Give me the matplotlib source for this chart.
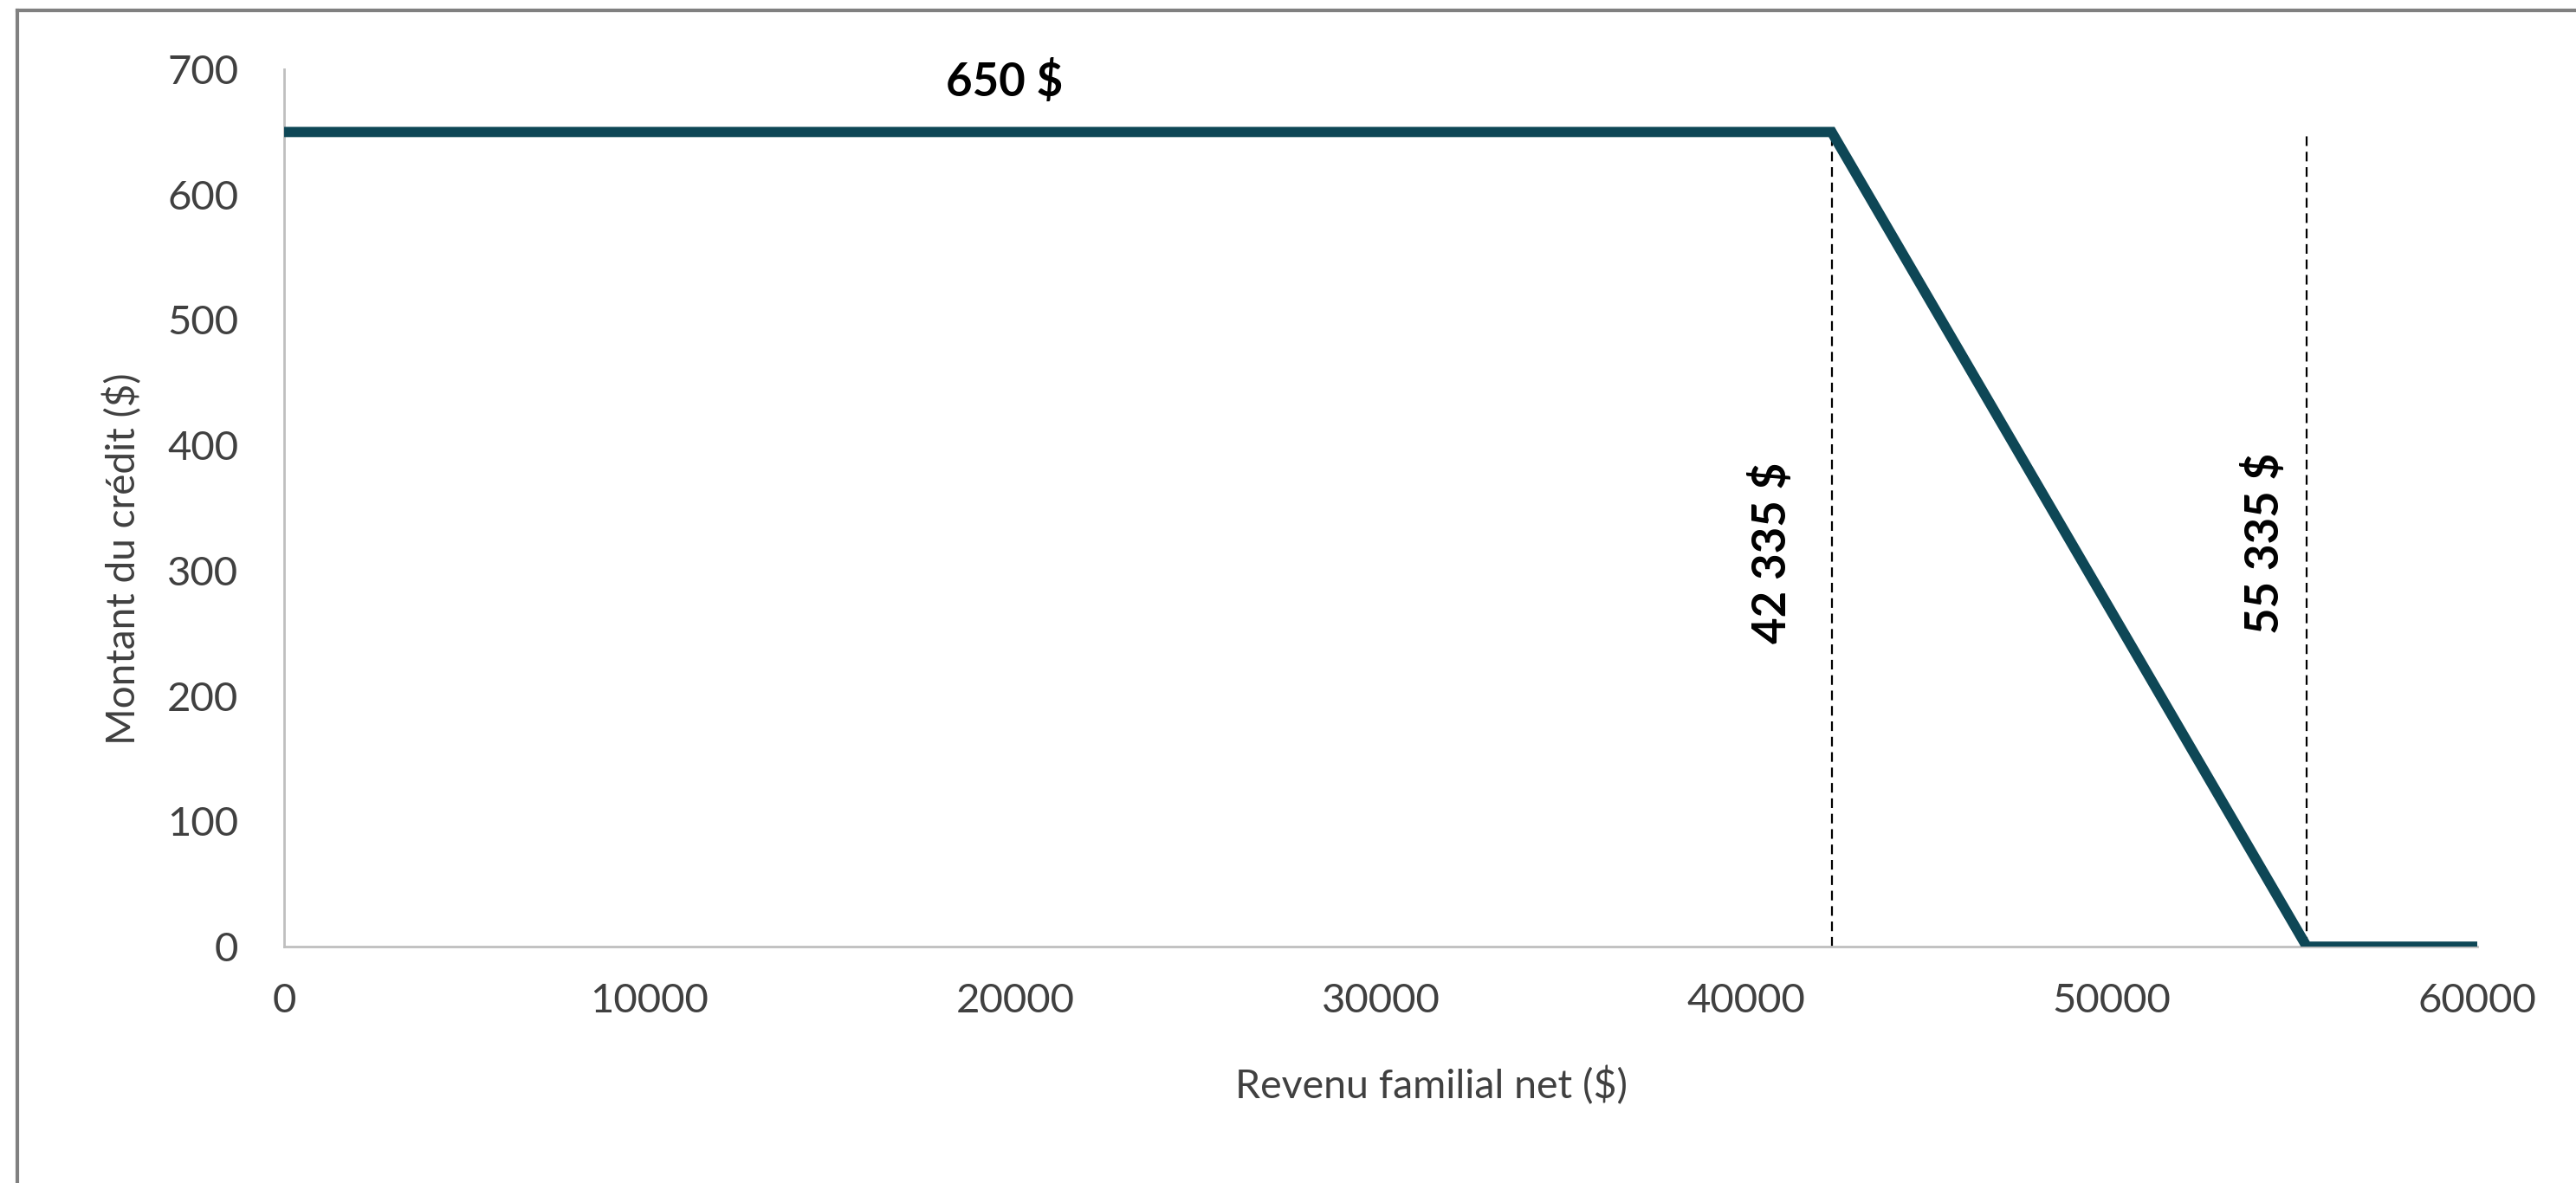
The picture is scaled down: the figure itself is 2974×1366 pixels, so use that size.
import matplotlib
matplotlib.use("Agg")
import matplotlib.pyplot as plt
from matplotlib.lines import Line2D

plt.rcParams['font.family'] = ['Lato', 'DejaVu Sans']

# ----------- DATA ------------
income = [0, 42335, 55335, 60000]
credit = [650, 650, 0, 0]
thresholds = [42335, 55335]
threshold_labels = ["42 335 $", "55 335 $"]
max_label = "650 $"
x_ticks = [0, 10000, 20000, 30000, 40000, 50000, 60000]
y_ticks = [0, 100, 200, 300, 400, 500, 600, 700]

LINE_COLOR = "#0E4756"
AXIS_GRAY = "#BFBFBF"
TEXT_GRAY = "#404040"

# ----------- FIGURE ------------
fig = plt.figure(figsize=(29.74, 13.66), dpi=100)
ax = fig.add_axes([0.1103, 0.1998, 0.8514, 0.7416])

ax.plot(income, credit, color=LINE_COLOR, lw=8.5, solid_capstyle="butt",
        solid_joinstyle="miter", zorder=3)

for t in thresholds:
    ax.plot([t, t], [0, max(credit)], color="black", lw=1.6,
            ls=(0, (5, 3)), zorder=2)

ax.text(19716, 690, max_label, fontsize=38, fontweight="bold",
        ha="center", va="center", color="black")
ax.text(40688, 314, threshold_labels[0], fontsize=38, fontweight="bold",
        rotation=90, ha="center", va="center", color="black")
ax.text(54171, 322, threshold_labels[1], fontsize=38, fontweight="bold",
        rotation=90, ha="center", va="center", color="black")

ax.set_xlim(0, 60000)
ax.set_ylim(0, 700)
ax.set_xticks(x_ticks)
ax.set_yticks(y_ticks)
ax.tick_params(length=0, labelsize=34, labelcolor=TEXT_GRAY)
ax.tick_params(axis="x", pad=30)
ax.tick_params(axis="y", pad=38)

for s in ["top", "right"]:
    ax.spines[s].set_visible(False)
for s in ["left", "bottom"]:
    ax.spines[s].set_color(AXIS_GRAY)
    ax.spines[s].set_linewidth(2)

fig.text(0.5555, 0.082, "Revenu familial net ($)", fontsize=33.5,
         color=TEXT_GRAY, ha="center", va="center")
fig.text(0.0477, 0.528, "Montant du crédit ($)", fontsize=33,
         color=TEXT_GRAY, ha="center", va="center", rotation=90)

# outer frame (left and top only, as in the reference)
fig.add_artist(Line2D([0.0067, 0.0067], [0, 0.9915], transform=fig.transFigure,
                      color="#808080", lw=3))
fig.add_artist(Line2D([0.0067, 1], [0.9915, 0.9915], transform=fig.transFigure,
                      color="#808080", lw=3))

fig.savefig("out.png", dpi=100)
